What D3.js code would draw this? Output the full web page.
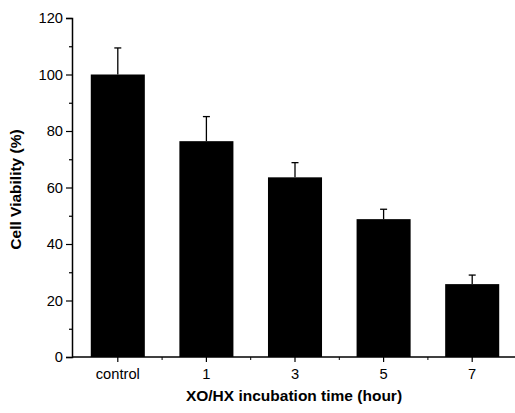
<!DOCTYPE html>
<html>
<head>
<meta charset="utf-8">
<script src="https://cdn.jsdelivr.net/npm/d3@7"></script>
<style>
  body { margin: 0; background: #fff; }
  text { font-family: "Liberation Sans", Arial, sans-serif; }
  .tickLabel { font-size: 14.7px; fill: #000; }
  .axisTitle { font-size: 15.5px; font-weight: bold; fill: #000; }
</style>
</head>
<body>
<div id="chart"></div>
<script>
// Datos
const categories = ["control", "1", "3", "5", "7"]
const viability = [100, 76.4, 63.6, 48.8, 25.8]
const errors = [9.4, 8.7, 5.2, 3.5, 3.2]
const yTicks = [0, 20, 40, 60, 80, 100, 120]

const width = 515
const height = 413
const margin = { top: 18, bottom: 56, left: 72, right: 0 }

const svg = d3.select("div#chart").append("svg")
    .attr("width", width)
    .attr("height", height)

const innerH = height - margin.top - margin.bottom

// Escalas
const scaleX = d3.scaleBand().domain(categories).range([margin.left + 1.5, width + 1.5])
    .paddingInner(0.39).paddingOuter(0.195)
const scaleY = d3.scaleLinear().domain([0, 120]).range([margin.top + innerH, margin.top])

const plot = svg.append("g").attr("id", "elementGroup")

// Barras
plot.selectAll("rect.bar").data(categories).enter().append("rect")
    .attr("class", "bar")
    .attr("x", d => scaleX(d))
    .attr("y", (d, i) => scaleY(viability[i]))
    .attr("width", scaleX.bandwidth())
    .attr("height", (d, i) => scaleY(0) - scaleY(viability[i]))
    .attr("fill", "#000")

// Barras de error (solo hacia arriba)
const errG = plot.append("g").attr("stroke", "#000").attr("stroke-width", 1.3)
categories.forEach((c, i) => {
    const cx = scaleX(c) + scaleX.bandwidth() / 2
    errG.append("line")
        .attr("x1", cx).attr("x2", cx)
        .attr("y1", scaleY(viability[i])).attr("y2", scaleY(viability[i] + errors[i]))
    errG.append("line")
        .attr("x1", cx - 3.5).attr("x2", cx + 3.5)
        .attr("y1", scaleY(viability[i] + errors[i])).attr("y2", scaleY(viability[i] + errors[i]))
})

// Eje Y
const yAxis = d3.axisLeft(scaleY).tickValues(yTicks).tickSize(6).tickPadding(3)
const yAxisGroup = svg.append("g").attr("transform", `translate(${margin.left} 0)`).call(yAxis)
yAxisGroup.selectAll("text").attr("class", "tickLabel").attr("font-family", null).attr("font-size", null)
// ticks menores
const yMinor = d3.axisLeft(scaleY).tickValues([10, 30, 50, 70, 90, 110]).tickSize(3).tickFormat("")
svg.append("g").attr("transform", `translate(${margin.left} 0)`).call(yMinor).select(".domain").remove()

// Eje X
const xAxis = d3.axisBottom(scaleX).tickSize(5).tickPadding(7).tickSizeOuter(0)
const xAxisGroup = svg.append("g").attr("transform", `translate(0 ${scaleY(0)})`).call(xAxis)
xAxisGroup.select(".domain").attr("d", `M${margin.left},0H${width}`)
xAxisGroup.selectAll("text").attr("class", "tickLabel").attr("font-family", null).attr("font-size", null)
// ticks menores entre categorías
const step = scaleX.step()
const minorX = categories.slice(0, -1).map(c => scaleX(c) + scaleX.bandwidth() / 2 + step / 2)
xAxisGroup.selectAll("line.minor").data(minorX).enter().append("line")
    .attr("class", "minor")
    .attr("x1", d => d).attr("x2", d => d)
    .attr("y1", 0).attr("y2", 3)
    .attr("stroke", "#000")

svg.selectAll(".domain").attr("stroke-width", 1.5)
svg.selectAll(".tick line").attr("stroke-width", 1.2)

// Títulos de ejes
svg.append("text").attr("class", "axisTitle")
    .attr("text-anchor", "middle")
    .attr("transform", `translate(21 ${scaleY(60) + 2}) rotate(-90)`)
    .text("Cell Viability (%)")

svg.append("text").attr("class", "axisTitle")
    .attr("text-anchor", "middle")
    .attr("x", 294).attr("y", 401)
    .text("XO/HX incubation time (hour)")
</script>
</body>
</html>
